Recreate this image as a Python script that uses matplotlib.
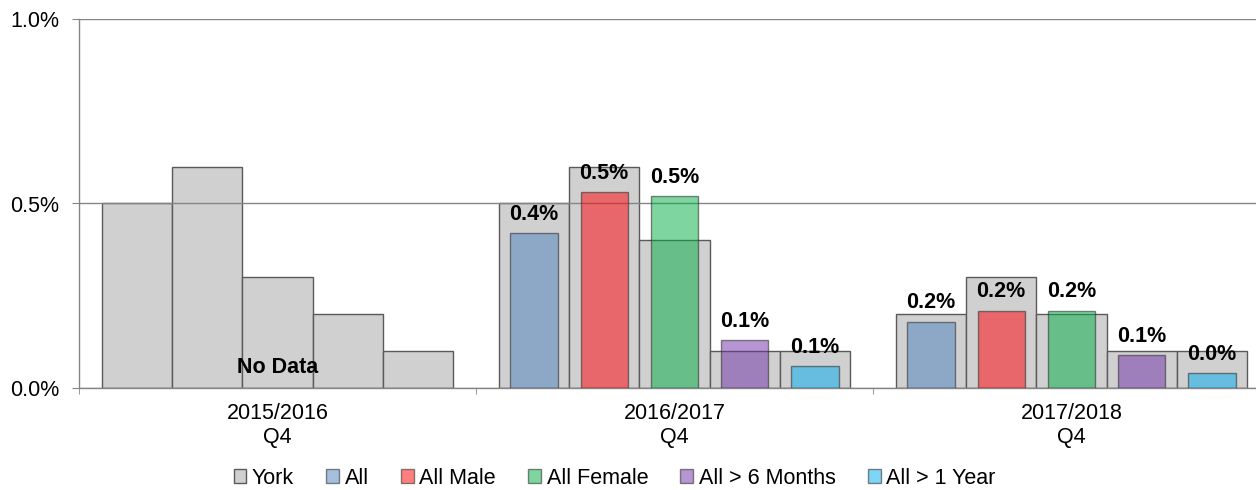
import numpy as np
import matplotlib
matplotlib.use("Agg")
import matplotlib.pyplot as plt
from matplotlib.ticker import FuncFormatter

plt.rcParams['font.family'] = ['Liberation Sans', 'DejaVu Sans']

# ---- data (percent) ----
categories = ["2015/2016\nQ4", "2016/2017\nQ4", "2017/2018\nQ4"]
series_names = ["All", "All Male", "All Female", "All > 6 Months", "All > 1 Year"]

# York comparison values behind each series
york_all = [0.5, 0.5, 0.2]
york_male = [0.6, 0.6, 0.3]
york_female = [0.3, 0.4, 0.2]
york_6m = [0.2, 0.1, 0.1]
york_1y = [0.1, 0.1, 0.1]

# Series values (no data for 2015/2016)
all_vals = [np.nan, 0.42, 0.18]
male_vals = [np.nan, 0.53, 0.21]
female_vals = [np.nan, 0.52, 0.21]
m6_vals = [np.nan, 0.13, 0.09]
y1_vals = [np.nan, 0.06, 0.04]

no_data_label = "No Data"

york_series = [york_all, york_male, york_female, york_6m, york_1y]
series_vals = [all_vals, male_vals, female_vals, m6_vals, y1_vals]
colors = [(76/255, 130/255, 192/255, 0.5),
          (1.0, 0.0, 0.02, 0.5),
          (0.0, 173/255, 65/255, 0.5),
          (111/255, 45/255, 169/255, 0.5),
          (0.0, 172/255, 240/255, 0.5)]

fig = plt.figure(figsize=(12.56, 4.9), dpi=100)
ax = fig.add_axes([79/1256, 1 - 388/490, 1 - 79/1256, (388 - 19)/490])

x = np.arange(len(categories))
gw = 0.177
cw = 0.119
FS = 15.5

for i, yv in enumerate(york_series):
    ax.bar(x + (i - 2) * gw, yv, width=gw, color='#D0D0D0', edgecolor='#5A5A5A',
           linewidth=1.0, zorder=1, label='York' if i == 0 else None)

for i, (sv, c) in enumerate(zip(series_vals, colors)):
    pos = x + (i - 2) * gw
    ax.bar(pos, sv, width=cw, color=c, edgecolor=(0.2, 0.2, 0.2, 0.6),
           linewidth=1.0, zorder=3, label=series_names[i])
    for p, v in zip(pos, sv):
        if np.isnan(v):
            continue
        ax.annotate(f"{v:.1f}%", xy=(p, v), xytext=(0, 9.5), textcoords='offset points',
                    ha='center', va='baseline', fontsize=FS, fontweight='bold',
                    color='black', zorder=5)

ax.annotate(no_data_label, xy=(x[0], 0), xytext=(0, 10.5), textcoords='offset points',
            ha='center', va='baseline', fontsize=FS, fontweight='bold', zorder=5)

ax.set_ylim(0, 1.0)
ax.set_xlim(-0.5, -0.5 + 1177/397)
ax.set_yticks([0, 0.5, 1.0])
ax.yaxis.set_major_formatter(FuncFormatter(lambda v, _: f"{v:.1f}%"))
ax.set_xticks(x)
ax.set_xticklabels(categories)
ax.set_xticks([-0.5, 0.5, 1.5], minor=True)

gc = '#868686'
ax.set_axisbelow(False)
ax.yaxis.grid(True, color=gc, linewidth=1.0)
for s in ['top', 'right']:
    ax.spines[s].set_visible(False)
for s in ['left', 'bottom']:
    ax.spines[s].set_color(gc)
    ax.spines[s].set_linewidth(1.0)

ax.tick_params(axis='y', length=5, color=gc, pad=9, labelsize=FS)
ax.tick_params(axis='x', which='major', length=0, pad=11, labelsize=FS)
ax.tick_params(axis='x', which='minor', length=4.5, color=gc)

handles, labels = ax.get_legend_handles_labels()
leg = fig.legend(handles, labels, loc='center', bbox_to_anchor=(0.4893, 1 - 478/490),
                 ncol=6, frameon=False, fontsize=FS, handlelength=0.6, handleheight=0.6,
                 handletextpad=0.25, columnspacing=1.5, borderpad=0.0)

fig.savefig("out.png", dpi=100)
